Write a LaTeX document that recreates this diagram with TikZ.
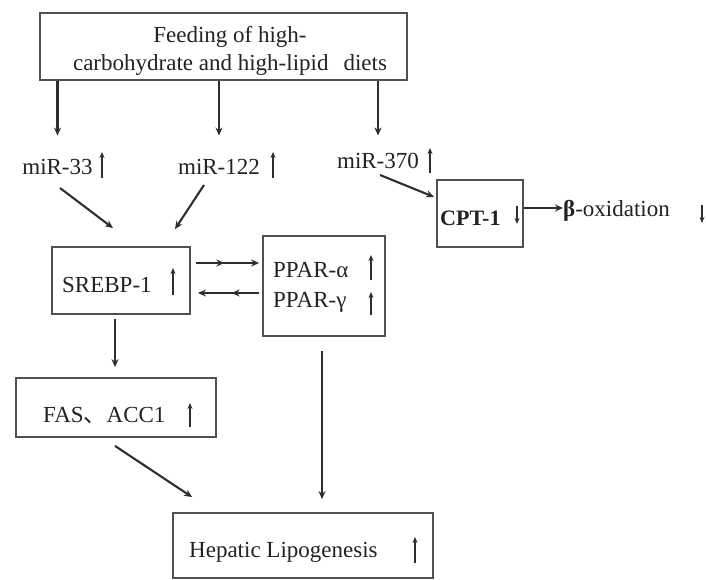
\documentclass[tikz,border=0pt]{standalone}
\usepackage{fontspec}
\setmainfont{Liberation Serif}
\newfontfamily\cjkfont{Noto Sans CJK SC}
\usetikzlibrary{arrows.meta,decorations.markings}
\definecolor{txtc}{HTML}{222222}
\definecolor{linec}{HTML}{2E2E2E}
\definecolor{boxc}{HTML}{505050}
\begin{document}
\begin{tikzpicture}[x=1pt,y=-1pt,
  box/.style={draw=boxc, line width=1.8pt, rectangle, inner sep=0pt},
  lbl/.style={text=txtc, font=\fontsize{23}{28}\selectfont, inner sep=0pt},
  conn/.style={draw=linec, line width=2.1pt, -{Stealth[length=8pt,width=7pt]}},
  upar/.style={draw=linec, line width=1.4pt, -{Stealth[length=6pt,width=5pt]}},
  midhead/.style={decoration={markings, mark=at position #1 with {\arrow{Stealth[length=8pt,width=7pt]}}}, postaction=decorate},
]
\useasboundingbox (0,0) rectangle (706,580);

% boxes
\node[box, minimum width=367pt, minimum height=67pt] (feed) at (223.5,46.5) {};
\node[box, minimum width=138pt, minimum height=67pt] (srebp) at (121,280.5) {};
\node[box, minimum width=122pt, minimum height=100pt] (ppar) at (324,286) {};
\node[box, minimum width=200pt, minimum height=59pt] (fas) at (116,407.5) {};
\node[box, minimum width=260pt, minimum height=65pt] (hep) at (303,545.5) {};
\node[box, minimum width=86pt, minimum height=67pt] (cpt) at (480,213.5) {};

% texts
\node[lbl, align=center] (feedtxt) at (230,50.5) {Feeding of high-\\carbohydrate and high-lipid\hspace{0.4em} diets};
\node[lbl, anchor=base] (m33) at (57.5,175) {miR-33};
\node[lbl, anchor=base] (m122) at (219,175) {miR-122};
\node[lbl, anchor=base] (m370) at (378,168) {miR-370};
\node[lbl, anchor=base west] (srebptxt) at (62,292) {SREBP-1};
\node[lbl, anchor=base west] (pparatxt) at (273,277) {PPAR-α};
\node[lbl, anchor=base west] (ppargtxt) at (273,307) {PPAR-γ};
\node[lbl, anchor=base west] (fastxt) at (43,422) {FAS{\cjkfont 、}ACC1};
\node[lbl, anchor=base west] (heptxt) at (189,557) {Hepatic Lipogenesis};
\node[lbl, anchor=base west, font=\fontsize{22}{26}\selectfont\bfseries] (cpttxt) at (440,225) {CPT-1};
\node[lbl, anchor=base west] (betaox) at (563,216) {{\bfseries β}-oxidation};

% small up/down arrows
\draw[upar] (102,178) -- (102,152);
\draw[upar] (273,178) -- (273,152);
\draw[upar] (430,173) -- (430,148);
\draw[upar] (173,295) -- (173,268);
\draw[upar] (371,280) -- (371,255);
\draw[upar] (371,315) -- (371,292);
\draw[upar] (190,427) -- (190,403);
\draw[upar] (415,563) -- (415,537);
\draw[upar] (517,206) -- (517,224);
\draw[upar] (702,205) -- (702,223);

% connectors
\draw[conn, shorten >=24pt] (feed.south -| m33.north) -- (m33.north);
\draw[conn, shorten >=24pt] (feed.south -| m122.north) -- (m122.north);
\draw[conn, shorten >=17pt] (feed.south -| m370.north) -- (m370.north);

\draw[conn] ([shift={(2.5,13)}]m33.base) -- ([shift={(-8,-18)}]srebp.north);
\draw[conn] ([shift={(-15,10)}]m122.base) -- ([shift={(54,-17)}]srebp.north);

\draw[conn, midhead=0.45] ([shift={(5,-17.5)}]srebp.east) -- ([shift={(-3,-23)}]ppar.west);
\draw[conn, midhead=0.45] ([shift={(-3,7)}]ppar.west) -- ([shift={(7,12.5)}]srebp.east);

\coordinate (sdown) at ([shift={(-6,4)}]srebp.south);
\coordinate (fastop) at ([shift={(0,-10)}]fas.north);
\draw[conn] (sdown) -- (sdown |- fastop);
\coordinate (pdown) at ([shift={(-2,14)}]ppar.south);
\coordinate (heptop) at ([shift={(0,-13)}]hep.north);
\draw[conn] (pdown) -- (pdown |- heptop);
\draw[conn] ([shift={(-1,8)}]fas.south) -- ([shift={(20,-15)}]hep.north west);

\draw[conn] ([shift={(2,7)}]m370.base) -- ([shift={(-2,-16.5)}]cpt.west);
\coordinate (cptout) at ([shift={(0,-5.5)}]cpt.east);
\draw[conn] (cptout) -- (cptout -| betaox.west);
\end{tikzpicture}
\end{document}
